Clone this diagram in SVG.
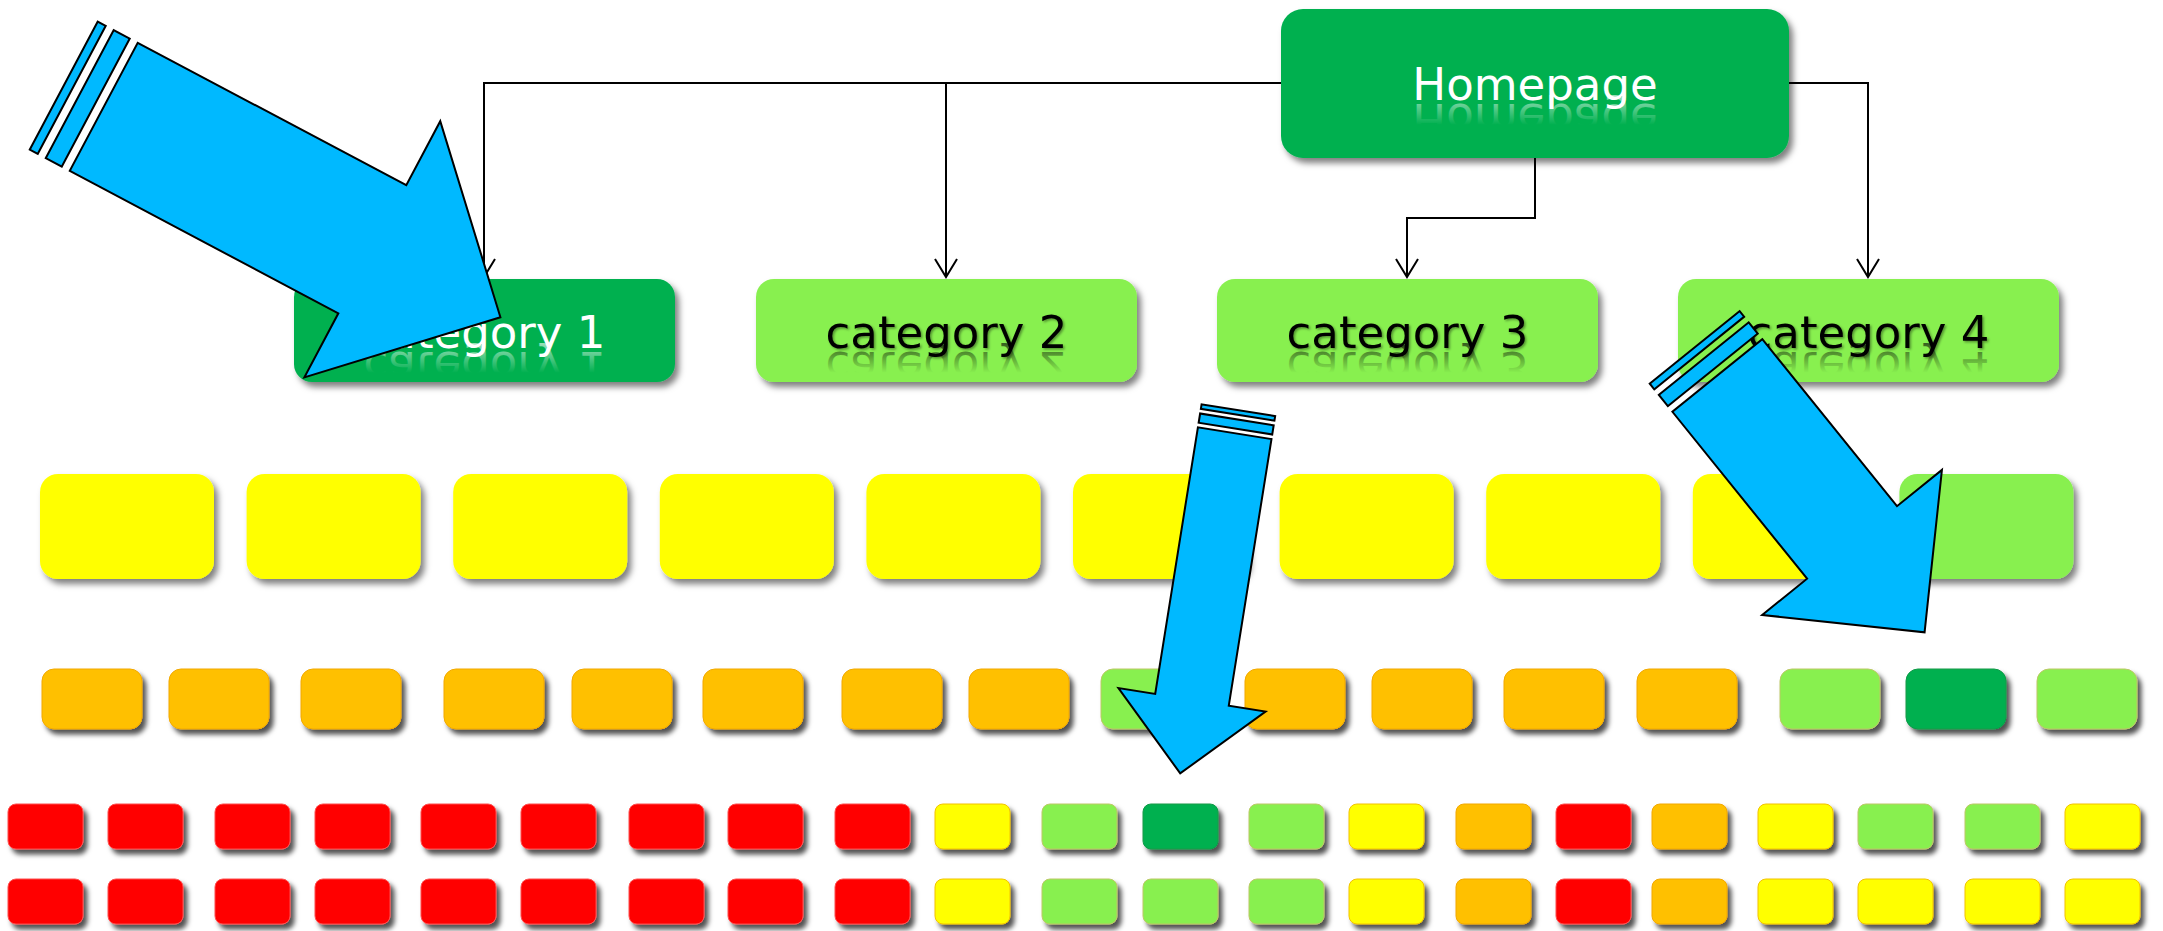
<svg xmlns="http://www.w3.org/2000/svg" width="2163" height="931" viewBox="0 0 2163 931">
<defs>
<style>
.dg{fill:#00B050}.lg{fill:#88F04F}.y{fill:#FFFF00}.o{fill:#FFC000}.r{fill:#FF0000}
.big{filter:url(#sh)}.sm{filter:url(#shs);stroke-width:1}
.sm.lg{stroke:#BCC866}.sm.y{stroke:#F2C200}.sm.o{stroke:#F2A800}.sm.r{stroke:#FF5050}.sm.dg{stroke:#109A48}
.t{font-family:"DejaVu Sans","Verdana",sans-serif;font-size:45px;text-anchor:middle}
.tw{fill:#FFFFFF}.tk{fill:#000000;filter:url(#tsh)}
.rw{fill:url(#fw)}.rk{fill:url(#fk)}
.con{fill:none;stroke:#000;stroke-width:2;marker-end:url(#open)}
.arr path,.arr rect{fill:#00B9FF;stroke:#000;stroke-width:2;stroke-linejoin:miter}
</style>
<filter id="sh" x="-10%" y="-10%" width="130%" height="140%"><feDropShadow dx="4" dy="5" stdDeviation="3" flood-color="#000" flood-opacity="0.5"/></filter>
<filter id="shs" x="-15%" y="-15%" width="140%" height="150%"><feDropShadow dx="4" dy="5" stdDeviation="2.5" flood-color="#000" flood-opacity="0.68"/></filter>
<filter id="tsh" x="-5%" y="-10%" width="115%" height="130%"><feDropShadow dx="1.5" dy="1.5" stdDeviation="0.8" flood-color="#000" flood-opacity="0.4"/></filter>
<linearGradient id="fw" x1="0" y1="0" x2="0" y2="1"><stop offset="0" stop-color="#fff" stop-opacity="0"/><stop offset="0.4" stop-color="#fff" stop-opacity="0"/><stop offset="1" stop-color="#fff" stop-opacity="0.65"/></linearGradient>
<linearGradient id="fk" x1="0" y1="0" x2="0" y2="1"><stop offset="0" stop-color="#000" stop-opacity="0"/><stop offset="0.4" stop-color="#000" stop-opacity="0"/><stop offset="1" stop-color="#000" stop-opacity="0.65"/></linearGradient>
<marker id="open" viewBox="-2 -13 22 26" refX="18" refY="0" markerWidth="22" markerHeight="26" markerUnits="userSpaceOnUse" orient="auto"><path d="M0,-11 L18,0 L0,11" fill="none" stroke="#000" stroke-width="2"/></marker>
</defs>
<rect width="2163" height="931" fill="#FFFFFF"/>

<g id="connectors">
<path class="con" d="M1281,83 H484 V277"/>
<path class="con" d="M946,83 V277"/>
<path class="con" d="M1535,158 V218 H1407 V277"/>
<path class="con" d="M1789,83 H1868 V277"/>
</g>

<g id="homepage"><rect class="dg big" x="1281" y="9" width="508" height="149" rx="22"/>
<text class="t tw" x="1535" y="100">Homepage</text>
<text class="t rw" x="1535" y="100" transform="translate(0,204) scale(1,-1)">Homepage</text></g>

<g id="cat1"><rect class="dg big" x="294" y="279" width="381" height="103" rx="18"/>
<text class="t tw" x="484.5" y="348">category 1</text>
<text class="t rw" x="484.5" y="348" transform="translate(0,700) scale(1,-1)">category 1</text></g>
<g id="cat2"><rect class="lg big" x="756" y="279" width="381" height="103" rx="18"/>
<text class="t tk" x="946.5" y="348">category 2</text>
<text class="t rk" x="946.5" y="348" transform="translate(0,700) scale(1,-1)">category 2</text></g>
<g id="cat3"><rect class="lg big" x="1217" y="279" width="381" height="103" rx="18"/>
<text class="t tk" x="1407.5" y="348">category 3</text>
<text class="t rk" x="1407.5" y="348" transform="translate(0,700) scale(1,-1)">category 3</text></g>
<g id="cat4"><rect class="lg big" x="1678" y="279" width="381" height="103" rx="18"/>
<text class="t tk" x="1868.5" y="348">category 4</text>
<text class="t rk" x="1868.5" y="348" transform="translate(0,700) scale(1,-1)">category 4</text></g>

<g id="level2">
<g id="l2-1"><rect class="y big" x="40" y="474" width="174" height="105" rx="18"/></g>
<g id="l2-2"><rect class="y big" x="246.6" y="474" width="174" height="105" rx="18"/></g>
<g id="l2-3"><rect class="y big" x="453.2" y="474" width="174" height="105" rx="18"/></g>
<g id="l2-4"><rect class="y big" x="659.8" y="474" width="174" height="105" rx="18"/></g>
<g id="l2-5"><rect class="y big" x="866.4" y="474" width="174" height="105" rx="18"/></g>
<g id="l2-6"><rect class="y big" x="1073" y="474" width="174" height="105" rx="18"/></g>
<g id="l2-7"><rect class="y big" x="1279.6" y="474" width="174" height="105" rx="18"/></g>
<g id="l2-8"><rect class="y big" x="1486.2" y="474" width="174" height="105" rx="18"/></g>
<g id="l2-9"><rect class="y big" x="1692.8" y="474" width="174" height="105" rx="18"/></g>
<g id="l2-10"><rect class="lg big" x="1899.4" y="474" width="174" height="105" rx="18"/></g>
</g>

<g id="level3">
<g id="l3-1"><rect class="o sm" x="42" y="669" width="100" height="60" rx="12"/></g>
<g id="l3-2"><rect class="o sm" x="169" y="669" width="100" height="60" rx="12"/></g>
<g id="l3-3"><rect class="o sm" x="301" y="669" width="100" height="60" rx="12"/></g>
<g id="l3-4"><rect class="o sm" x="444" y="669" width="100" height="60" rx="12"/></g>
<g id="l3-5"><rect class="o sm" x="572" y="669" width="100" height="60" rx="12"/></g>
<g id="l3-6"><rect class="o sm" x="703" y="669" width="100" height="60" rx="12"/></g>
<g id="l3-7"><rect class="o sm" x="842" y="669" width="100" height="60" rx="12"/></g>
<g id="l3-8"><rect class="o sm" x="969" y="669" width="100" height="60" rx="12"/></g>
<g id="l3-9"><rect class="lg sm" x="1101" y="669" width="100" height="60" rx="12"/></g>
<g id="l3-10"><rect class="o sm" x="1245" y="669" width="100" height="60" rx="12"/></g>
<g id="l3-11"><rect class="o sm" x="1372" y="669" width="100" height="60" rx="12"/></g>
<g id="l3-12"><rect class="o sm" x="1504" y="669" width="100" height="60" rx="12"/></g>
<g id="l3-13"><rect class="o sm" x="1637" y="669" width="100" height="60" rx="12"/></g>
<g id="l3-14"><rect class="lg sm" x="1780" y="669" width="100" height="60" rx="12"/></g>
<g id="l3-15"><rect class="dg sm" x="1906" y="669" width="100" height="60" rx="12"/></g>
<g id="l3-16"><rect class="lg sm" x="2037" y="669" width="100" height="60" rx="12"/></g>
</g>

<g id="level4">
<g id="l4-1"><rect class="r sm" x="8" y="804" width="75" height="45" rx="8"/></g>
<g id="l4-2"><rect class="r sm" x="108" y="804" width="75" height="45" rx="8"/></g>
<g id="l4-3"><rect class="r sm" x="215" y="804" width="75" height="45" rx="8"/></g>
<g id="l4-4"><rect class="r sm" x="315" y="804" width="75" height="45" rx="8"/></g>
<g id="l4-5"><rect class="r sm" x="421" y="804" width="75" height="45" rx="8"/></g>
<g id="l4-6"><rect class="r sm" x="521" y="804" width="75" height="45" rx="8"/></g>
<g id="l4-7"><rect class="r sm" x="629" y="804" width="75" height="45" rx="8"/></g>
<g id="l4-8"><rect class="r sm" x="728" y="804" width="75" height="45" rx="8"/></g>
<g id="l4-9"><rect class="r sm" x="835" y="804" width="75" height="45" rx="8"/></g>
<g id="l4-10"><rect class="y sm" x="935" y="804" width="75" height="45" rx="8"/></g>
<g id="l4-11"><rect class="lg sm" x="1042" y="804" width="75" height="45" rx="8"/></g>
<g id="l4-12"><rect class="dg sm" x="1143" y="804" width="75" height="45" rx="8"/></g>
<g id="l4-13"><rect class="lg sm" x="1249" y="804" width="75" height="45" rx="8"/></g>
<g id="l4-14"><rect class="y sm" x="1349" y="804" width="75" height="45" rx="8"/></g>
<g id="l4-15"><rect class="o sm" x="1456" y="804" width="75" height="45" rx="8"/></g>
<g id="l4-16"><rect class="r sm" x="1556" y="804" width="75" height="45" rx="8"/></g>
<g id="l4-17"><rect class="o sm" x="1652" y="804" width="75" height="45" rx="8"/></g>
<g id="l4-18"><rect class="y sm" x="1758" y="804" width="75" height="45" rx="8"/></g>
<g id="l4-19"><rect class="lg sm" x="1858" y="804" width="75" height="45" rx="8"/></g>
<g id="l4-20"><rect class="lg sm" x="1965" y="804" width="75" height="45" rx="8"/></g>
<g id="l4-21"><rect class="y sm" x="2065" y="804" width="75" height="45" rx="8"/></g>
</g>

<g id="level5">
<g id="l5-1"><rect class="r sm" x="8" y="879" width="75" height="45" rx="8"/></g>
<g id="l5-2"><rect class="r sm" x="108" y="879" width="75" height="45" rx="8"/></g>
<g id="l5-3"><rect class="r sm" x="215" y="879" width="75" height="45" rx="8"/></g>
<g id="l5-4"><rect class="r sm" x="315" y="879" width="75" height="45" rx="8"/></g>
<g id="l5-5"><rect class="r sm" x="421" y="879" width="75" height="45" rx="8"/></g>
<g id="l5-6"><rect class="r sm" x="521" y="879" width="75" height="45" rx="8"/></g>
<g id="l5-7"><rect class="r sm" x="629" y="879" width="75" height="45" rx="8"/></g>
<g id="l5-8"><rect class="r sm" x="728" y="879" width="75" height="45" rx="8"/></g>
<g id="l5-9"><rect class="r sm" x="835" y="879" width="75" height="45" rx="8"/></g>
<g id="l5-10"><rect class="y sm" x="935" y="879" width="75" height="45" rx="8"/></g>
<g id="l5-11"><rect class="lg sm" x="1042" y="879" width="75" height="45" rx="8"/></g>
<g id="l5-12"><rect class="lg sm" x="1143" y="879" width="75" height="45" rx="8"/></g>
<g id="l5-13"><rect class="lg sm" x="1249" y="879" width="75" height="45" rx="8"/></g>
<g id="l5-14"><rect class="y sm" x="1349" y="879" width="75" height="45" rx="8"/></g>
<g id="l5-15"><rect class="o sm" x="1456" y="879" width="75" height="45" rx="8"/></g>
<g id="l5-16"><rect class="r sm" x="1556" y="879" width="75" height="45" rx="8"/></g>
<g id="l5-17"><rect class="o sm" x="1652" y="879" width="75" height="45" rx="8"/></g>
<g id="l5-18"><rect class="y sm" x="1758" y="879" width="75" height="45" rx="8"/></g>
<g id="l5-19"><rect class="y sm" x="1858" y="879" width="75" height="45" rx="8"/></g>
<g id="l5-20"><rect class="y sm" x="1965" y="879" width="75" height="45" rx="8"/></g>
<g id="l5-21"><rect class="y sm" x="2065" y="879" width="75" height="45" rx="8"/></g>
</g>

<g id="highlight-arrows">
<g id="arrow1" class="arr" transform="translate(103.75,106.85) rotate(27.94)">
<path d="M0,-72.5 H304 V-145 L449,0 L304,145 V72.5 H0 Z"/>
<rect x="-27.2" y="-72.5" width="18.14" height="145"/>
<rect x="-45.3" y="-72.5" width="9.06" height="145"/>
</g>
<g id="arrow2" class="arr" transform="translate(1234.7,433.2) rotate(99.1)">
<path d="M0,-37.25 H270 V-74.5 L344.5,0 L270,74.5 V37.25 H0 Z"/>
<rect x="-13.97" y="-37.25" width="9.31" height="74.5"/>
<rect x="-23.28" y="-37.25" width="4.66" height="74.5"/>
</g>
<g id="arrow3" class="arr" transform="translate(1717.35,375.5) rotate(51.1)">
<path d="M0,-57.75 H214.5 V-115.5 L330,0 L214.5,115.5 V57.75 H0 Z"/>
<rect x="-21.66" y="-57.75" width="14.44" height="115.5"/>
<rect x="-36.1" y="-57.75" width="7.22" height="115.5"/>
</g>
</g>
</svg>
